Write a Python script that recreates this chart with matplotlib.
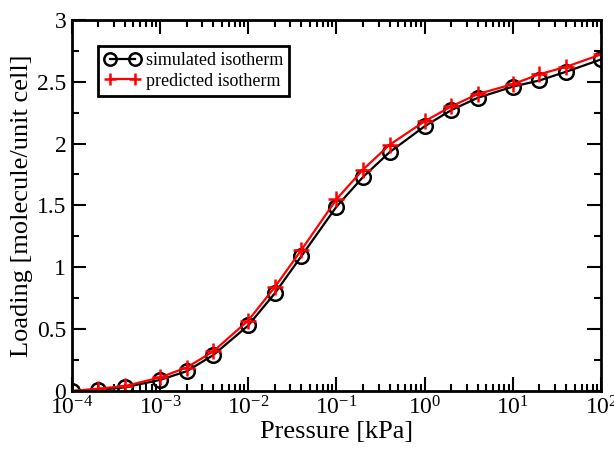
import matplotlib
matplotlib.use('Agg')
import matplotlib.pyplot as plt
import matplotlib.ticker as mticker
import numpy as np

plt.rcParams.update({
    'font.family': 'Liberation Serif',
    'mathtext.fontset': 'custom',
    'mathtext.rm': 'Liberation Serif',
    'mathtext.it': 'Liberation Serif:italic',
    'xtick.direction': 'in',
    'ytick.direction': 'in',
    'xtick.top': True,
    'ytick.right': True,
})

# ========== DATA ==========
pressure = [1e-4, 2e-4, 4e-4, 1e-3, 2e-3, 4e-3, 1e-2, 2e-2, 4e-2, 1e-1,
            2e-1, 4e-1, 1, 2, 4, 10, 20, 40, 100]
simulated = [0.00, 0.01, 0.03, 0.09, 0.16, 0.29, 0.53, 0.79, 1.09, 1.49,
             1.73, 1.93, 2.14, 2.27, 2.37, 2.46, 2.51, 2.58, 2.68]
predicted = [0.00, 0.02, 0.04, 0.11, 0.19, 0.32, 0.57, 0.84, 1.14, 1.55,
             1.79, 1.99, 2.18, 2.30, 2.40, 2.48, 2.56, 2.62, 2.72]

fig = plt.figure(figsize=(6.14, 4.5), dpi=100)
ax = fig.add_axes([0.117, 0.131, 0.862, 0.825])

ax.plot(pressure, simulated, '-', color='black', linewidth=1.6,
        marker='o', markersize=10.5, markerfacecolor='none',
        markeredgecolor='black', markeredgewidth=1.8, label='simulated isotherm')
ax.plot(pressure, predicted, '-', color='red', linewidth=1.6,
        marker='+', markersize=11, markeredgewidth=1.8, label='predicted isotherm')

ax.set_xscale('log')
ax.set_xlim(1e-4, 1e2)
ax.set_ylim(0, 3)
ax.xaxis.set_major_locator(mticker.LogLocator(base=10, numticks=10))
ax.xaxis.set_minor_locator(mticker.LogLocator(base=10, subs=np.arange(2, 10), numticks=20))
ax.xaxis.set_minor_formatter(mticker.NullFormatter())
ax.yaxis.set_major_locator(mticker.MultipleLocator(0.5))
ax.yaxis.set_minor_locator(mticker.MultipleLocator(0.25))
ax.yaxis.set_major_formatter(mticker.FuncFormatter(lambda v, p: f'{v:g}'))

ax.tick_params(which='major', length=10, width=1.5, labelsize=17, pad=4)
ax.tick_params(which='minor', length=5, width=1.5)
for s in ax.spines.values():
    s.set_linewidth(2)

ax.set_xlabel('Pressure [kPa]', fontsize=19, labelpad=1)
ax.set_ylabel('Loading [molecule/unit cell]', fontsize=19, labelpad=3)

leg = ax.legend(loc='upper left', bbox_to_anchor=(0.049, 0.93), numpoints=2,
                fontsize=13, frameon=True, fancybox=False, framealpha=1,
                edgecolor='black', handlelength=2.0, handletextpad=0.3,
                borderpad=0.35, labelspacing=0.2, borderaxespad=0,
                markerscale=0.85)
leg.get_frame().set_linewidth(2)

fig.savefig('out.png', dpi=100)
